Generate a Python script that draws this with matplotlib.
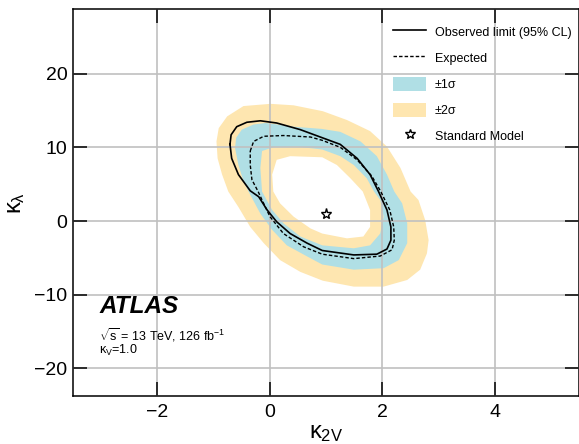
import matplotlib
matplotlib.use("Agg")
import matplotlib.pyplot as plt
from matplotlib.lines import Line2D
from matplotlib.patches import Patch

plt.rcParams['font.family'] = ['Liberation Sans', 'DejaVu Sans']
plt.rcParams['mathtext.fontset'] = 'custom'
plt.rcParams['mathtext.rm'] = 'Liberation Sans'
plt.rcParams['mathtext.it'] = 'Liberation Sans'
plt.rcParams['mathtext.bf'] = 'Liberation Sans:bold'

# 2D likelihood contours in the (k2V, klambda) plane, traced clockwise
two_sig_out_x = [-0.95, -0.91, -0.76, -0.47, 0.01, 0.42, 0.94, 1.37, 1.78, 2.08, 2.32,
                 2.5, 2.64, 2.76, 2.82, 2.79, 2.67, 2.44, 2.02, 1.49, 0.94, 0.54, 0.18,
                 -0.11, -0.35, -0.56, -0.74, -0.85, -0.93]
two_sig_out_y = [10.8, 12.6, 14.2, 15.6, 15.9, 15.7, 14.9, 13.7, 12.2, 10.1, 7.2,
                 4.0, 2.85, 0.1, -2.6, -4.4, -6.6, -8.0, -8.9, -8.9, -8.1, -6.9, -5.3,
                 -3.0, -0.8, 1.9, 4.0, 6.3, 8.5]

one_sig_out_x = [-0.60, -0.50, -0.29, -0.08, 0.42, 0.92, 1.25, 1.61, 1.90, 2.08, 2.21,
                 2.35, 2.44, 2.44, 2.29, 2.02, 1.49, 0.93, 0.66, 0.30, 0.04, -0.17,
                 -0.38, -0.47, -0.56, -0.62]
one_sig_out_y = [11.3, 12.4, 13.1, 13.3, 12.8, 12.5, 12.1, 10.8, 8.8, 6.3, 4.0,
                 2.4, -0.3, -3.0, -5.3, -6.4, -6.6, -5.9, -4.8, -3.3, -1.2, 1.0,
                 4.0, 5.4, 7.6, 9.9]

one_sig_in_x = [-0.14, 0.06, 0.48, 0.93, 1.25, 1.49, 1.72, 1.85, 1.96, 2.02, 1.96, 1.78,
                1.49, 0.93, 0.54, 0.24, 0.04, -0.14, -0.17]
one_sig_in_y = [9.5, 10.0, 10.1, 9.7, 8.8, 7.6, 5.8, 4.0, 2.85, 0.6, -1.7, -3.3,
                -3.7, -3.3, -2.1, -0.3, 1.5, 4.0, 7.2]

two_sig_in_x = [0.12, 0.36, 0.93, 1.19, 1.43, 1.65, 1.78, 1.78, 1.66, 1.37, 0.93, 0.72,
                0.42, 0.18, 0.06, 0.04]
two_sig_in_y = [8.3, 8.8, 8.65, 7.6, 5.8, 4.0, 1.5, -0.8, -2.1, -2.35, -1.7, -1.0,
                0.6, 2.4, 4.0, 6.3]

obs_x = [-0.71, -0.69, -0.59, -0.41, -0.17, 0.12, 0.54, 0.93, 1.25, 1.55, 1.78, 1.93,
         2.08, 2.15, 2.15, 2.08, 1.90, 1.49, 0.93, 0.66, 0.36, 0.12, -0.05, -0.2,
         -0.35, -0.56, -0.68]
obs_y = [10.4, 11.7, 12.8, 13.4, 13.6, 13.3, 12.4, 11.3, 10.4, 8.5, 6.3, 4.0,
         1.5, -0.8, -2.6, -3.8, -4.5, -4.6, -4.0, -3.0, -1.7, -0.1, 1.5, 3.3,
         4.1, 6.3, 8.5]

exp_x = [-0.35, -0.29, -0.11, 0.24, 0.72, 0.93, 1.25, 1.55, 1.81, 1.97, 2.13, 2.2,
         2.21, 2.17, 1.96, 1.49, 0.93, 0.60, 0.24, 0.0, -0.14, -0.21, -0.32, -0.35]
exp_y = [9.5, 10.8, 11.5, 11.6, 11.4, 10.95, 10.0, 8.3, 6.1, 4.0, 1.5, -0.8,
         -2.6, -3.9, -4.75, -5.1, -4.5, -3.5, -1.7, 0.6, 2.85, 4.0, 5.6, 7.6]

sm_point = (1.0, 1.0)

xticks = [-2, 0, 2, 4]
yticks = [-20, -10, 0, 10, 20]

blue = '#b0dfe5'
yellow = '#fee6b0'

fig = plt.figure(figsize=(5.79, 4.44), dpi=100)
ax = fig.add_axes([73 / 579, 1 - 395.7 / 444, 506.4 / 579, 386.2 / 444])

# bands stacked from the outside in
ax.fill(two_sig_out_x, two_sig_out_y, color=yellow, lw=0, zorder=1)
ax.fill(one_sig_out_x, one_sig_out_y, color=blue, lw=0, zorder=1.1)
ax.fill(one_sig_in_x, one_sig_in_y, color=yellow, lw=0, zorder=1.2)
ax.fill(two_sig_in_x, two_sig_in_y, color='white', lw=0, zorder=1.3)

ax.plot(obs_x + obs_x[:1], obs_y + obs_y[:1], color='black', lw=1.2,
        solid_joinstyle='round', zorder=4)
ax.plot(exp_x + exp_x[:1], exp_y + exp_y[:1], color='black', lw=1.0,
        ls=(0, (2.5, 1.5)), zorder=4)
ax.plot(*sm_point, marker='*', ms=8, mfc='white', mec='black', mew=1.0,
        ls='none', zorder=5)

ax.set_xlim(-3.5, 5.5)
ax.set_ylim(-23.7, 28.7)
ax.set_xticks(xticks)
ax.set_yticks(yticks)
ax.set_xticklabels(['\u22122', '0', '2', '4'])
ax.set_yticklabels(['\u221220', '\u221210', '0', '10', '20'])
ax.minorticks_off()
ax.grid(True, color='#c0c0c0', lw=1.2, zorder=2)
ax.set_axisbelow(False)
ax.tick_params(direction='in', length=10, width=1.1, labelsize=14,
               top=True, right=True)
ax.tick_params(axis='x', pad=6)
ax.tick_params(axis='y', pad=4)
for s in ax.spines.values():
    s.set_linewidth(1.1)

ax.set_xlabel('$\\kappa_{2V}$', fontsize=17, labelpad=1)
ax.set_ylabel('$\\kappa_{\\lambda}$', fontsize=17, labelpad=5)

ax.text(0.053, 0.214, 'ATLAS', transform=ax.transAxes, fontsize=17.5,
        fontweight='bold', fontstyle='italic')
ax.text(0.051, 0.144, '$\\sqrt{s}$ = 13 TeV, 126 fb$^{-1}$', transform=ax.transAxes,
        fontsize=9)
ax.text(0.051, 0.108, '$\\kappa_V$=1.0', transform=ax.transAxes, fontsize=9)

handles = [
    Line2D([], [], color='black', lw=1.2),
    Line2D([], [], color='black', lw=1.0, ls=(0, (2.5, 1.5))),
    Patch(facecolor=blue, edgecolor='none'),
    Patch(facecolor=yellow, edgecolor='none'),
    Line2D([], [], marker='*', ms=7, mfc='white', mec='black', ls='none'),
]
labels = ['Observed limit (95% CL)', 'Expected', '\u00b11\u03c3', '\u00b12\u03c3',
          'Standard Model']
leg = fig.legend(handles, labels, loc='upper left', bbox_to_anchor=(393 / 579, 1 - 24.7 / 444),
                 frameon=False, fontsize=9, handlelength=2.64, handleheight=1.4,
                 handletextpad=0.72, labelspacing=0.92, borderpad=0, borderaxespad=0)

fig.savefig('out.png', dpi=100)
